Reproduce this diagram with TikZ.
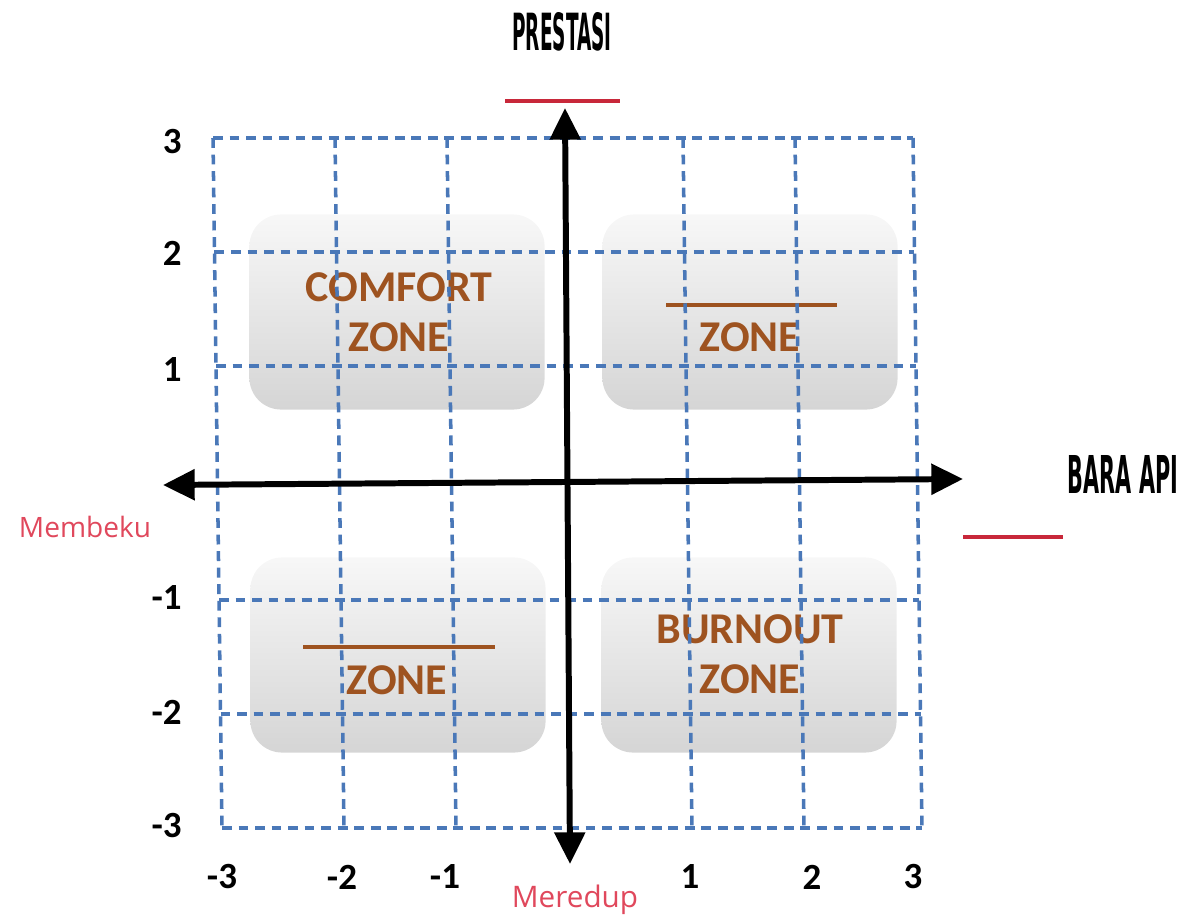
\documentclass[tikz,border=0pt]{standalone}
\usepackage{graphicx}
\usepackage{fontspec}
\setmainfont{Carlito}
\newfontfamily\titlefont{DejaVu Sans Condensed}
\newfontfamily\handfont{Open Sans}
\usetikzlibrary{arrows.meta}
\definecolor{gridblue}{HTML}{4A78B8}
\definecolor{zonetext}{HTML}{9E5320}
\definecolor{blankred}{HTML}{C8283A}
\definecolor{handred}{HTML}{E0485C}
\begin{document}
\begin{tikzpicture}[x=0.01cm,y=-0.01cm,
        zonebox/.style={rounded corners=9pt,minimum width=2.95cm,minimum height=1.95cm,top color=gray!6,bottom color=gray!33},
        zonelabel/.style={text=zonetext,font=\bfseries\fontsize{12.5}{14.2}\selectfont,align=center},
        gridline/.style={gridblue,line width=1pt,dash pattern=on 2.8pt off 1.9pt},
        tick/.style={font=\bfseries\fontsize{10.5}{12}\selectfont},
        hand/.style={text=handred,font=\handfont}]
        \useasboundingbox (0,0) rectangle (1181,918);
        \node [zonebox] (tl) at (397,312) {};
        \node [zonebox] (tr) at (750,312) {};
        \node [zonebox] (bl) at (398,655) {};
        \node [zonebox] (br) at (749,655) {};
        \node [zonelabel] (comfort) at (399,312) {COMFORT\\ZONE};
        \node [zonelabel] (zonetr) at (750,337) {ZONE};
        \node [zonelabel] (zonebl) at (397,680) {ZONE};
        \node [zonelabel] (burnout) at (750,654) {BURNOUT\\ZONE};
        \draw [zonetext,line width=0.9pt] (666,305) -- (837,305);
        \draw [zonetext,line width=0.9pt] (303,647) -- (495,647);
        \foreach \x in {213,335,447,683,795,913}
            \draw [gridline] (\x,138) -- ++(9,690);
        \foreach \y in {138,252,366,600,714,828}
            \draw [gridline] ({213+9*(\y-138)/690},\y) -- ++(700,0);
        \coordinate (xl) at (163,485);
        \coordinate (xr) at (963,479);
        \coordinate (yt) at (565,108);
        \coordinate (yb) at (570,864);
        \draw [line width=1.7pt,{Triangle[length=9pt,width=8.5pt]}-{Triangle[length=9pt,width=8.5pt]}] (xl) -- (xr);
        \draw [line width=1.7pt,{Triangle[length=9pt,width=8.5pt]}-{Triangle[length=9pt,width=8.5pt]}] (yb) -- (yt);
        \node (prestasi) at (562,32) {\resizebox{0.99cm}{0.38cm}{\titlefont\bfseries PRESTASI}};
        \node (baraapi) at (1123,474) {\resizebox{1.10cm}{0.38cm}{\titlefont\bfseries BARA API}};
        \draw [blankred,line width=1pt] (505,101) -- (620,101);
        \draw [blankred,line width=1pt] (963,537) -- (1063,537);
        \node [hand] (membeku) at (85,527) {\resizebox{1.32cm}{!}{Membeku}};
        \node [hand] (meredup) at (575,900) {\resizebox{1.26cm}{!}{Meredup}};
        \foreach \v/\y in {3/142,2/253,1/370,-1/598,-2/712,-3/826}
            \node [tick,anchor=east] (ly\y) at (194,\y) {\v};
        \foreach \v/\x in {-3/222,-2/342,-1/445,1/690,2/812,3/913}
            \node [tick] (bx\x) at (\x,877) {\v};
\end{tikzpicture}
\end{document}
